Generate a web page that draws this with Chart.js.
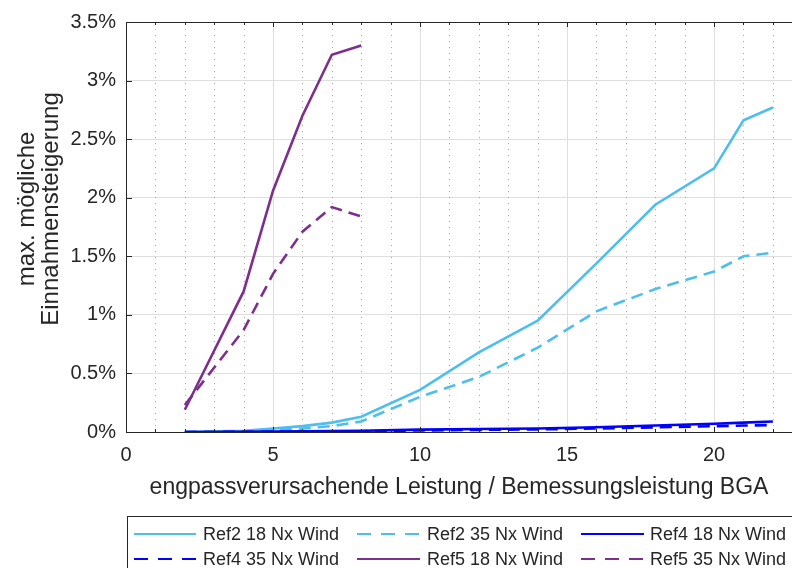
<!DOCTYPE html>
<html><head><meta charset="utf-8">
<script src="https://cdn.jsdelivr.net/npm/chart.js@4"></script>
<style>html,body{margin:0;padding:0;background:#fff;} #wrap{width:792px;height:568px;position:relative;}</style>
</head><body><div id="wrap"><canvas id="c" width="792" height="568"></canvas></div>
<script>
// ---- data ----
const xLong = [2, 4, 5, 6, 7, 8, 10, 12, 14, 16, 18, 20, 21, 22];
const xShort = [2, 4, 5, 6, 7, 8];
const ref2_18 = [0, 0.01, 0.03, 0.05, 0.08, 0.13, 0.36, 0.68, 0.95, 1.44, 1.94, 2.25, 2.66, 2.77];
const ref2_35 = [0, 0.005, 0.015, 0.03, 0.05, 0.09, 0.30, 0.47, 0.72, 1.03, 1.22, 1.37, 1.50, 1.53];
const ref4_18 = [0, 0.001, 0.003, 0.005, 0.008, 0.01, 0.02, 0.025, 0.03, 0.04, 0.055, 0.07, 0.08, 0.09];
const ref4_35 = [0, 0.001, 0.002, 0.003, 0.005, 0.007, 0.013, 0.018, 0.022, 0.03, 0.04, 0.05, 0.055, 0.06];
const ref5_18 = [0.19, 1.20, 2.06, 2.70, 3.22, 3.30];
const ref5_35 = [0.23, 0.87, 1.35, 1.71, 1.92, 1.84];
const seriesNames = ['Ref2 18 Nx Wind', 'Ref2 35 Nx Wind', 'Ref4 18 Nx Wind', 'Ref4 35 Nx Wind', 'Ref5 18 Nx Wind', 'Ref5 35 Nx Wind'];
const xTickValues = [0, 5, 10, 15, 20];
const xTickLabels = ['0', '5', '10', '15', '20'];
const yTickValues = [0, 0.5, 1, 1.5, 2, 2.5, 3, 3.5];
const yTickLabels = ['0%', '0.5%', '1%', '1.5%', '2%', '2.5%', '3%', '3.5%'];
const xTitle = 'engpassverursachende Leistung / Bemessungsleistung BGA';
const yTitle = ['max. mögliche', 'Einnahmensteigerung'];

// ---- styles ----
const cLight = '#4DBEEE', cBlue = '#0000FF', cPurple = '#7E2F8E';
const axisColor = '#262626';
const FONT = '"Liberation Sans", Arial, sans-serif';
const DASH = [12, 7];

function pts(xs, ys) { return xs.map((x, i) => ({ x: x, y: ys[i] })); }
const seriesData = [pts(xLong, ref2_18), pts(xLong, ref2_35), pts(xLong, ref4_18), pts(xLong, ref4_35), pts(xShort, ref5_18), pts(xShort, ref5_35)];
const seriesColors = [cLight, cLight, cBlue, cBlue, cPurple, cPurple];
const seriesDashed = [false, true, false, true, false, true];

const datasets = seriesData.map((d, i) => ({
  label: seriesNames[i],
  data: d,
  borderColor: seriesColors[i],
  backgroundColor: seriesColors[i],
  borderWidth: 2.6,
  borderDash: seriesDashed[i] ? DASH : [],
  pointRadius: 0,
  tension: 0,
  fill: false,
  order: -i
}));

const decorPlugin = {
  id: 'decor',
  beforeDatasetsDraw(chart) {
    const { ctx, chartArea: a, scales: { x } } = chart;
    ctx.save();
    ctx.strokeStyle = '#a8a8a8';
    ctx.lineWidth = 1;
    ctx.setLineDash([1, 5]);
    for (let v = 1; v <= Math.floor(x.max); v++) {
      if (v % 5 === 0) continue;
      const px = Math.round(x.getPixelForValue(v)) + 0.5;
      ctx.beginPath();
      ctx.moveTo(px, a.bottom);
      ctx.lineTo(px, a.top);
      ctx.stroke();
    }
    ctx.restore();
  },
  afterDatasetsDraw(chart) {
    const { ctx, chartArea: a, scales: { x, y } } = chart;
    ctx.save();
    ctx.strokeStyle = axisColor;
    ctx.lineWidth = 1;
    ctx.setLineDash([]);
    ctx.beginPath();
    ctx.moveTo(a.left, a.top + 0.5);
    ctx.lineTo(a.right, a.top + 0.5);
    ctx.stroke();
    ctx.beginPath();
    ctx.moveTo(a.left + 0.5, a.top);
    ctx.lineTo(a.left + 0.5, a.bottom);
    ctx.stroke();
    ctx.beginPath();
    ctx.moveTo(a.left, a.bottom + 0.5);
    ctx.lineTo(a.right, a.bottom + 0.5);
    ctx.stroke();
    for (let v = 0; v <= Math.floor(x.max); v++) {
      const len = (v % 5 === 0) ? 5 : 3;
      const px = Math.round(x.getPixelForValue(v)) + 0.5;
      ctx.beginPath();
      ctx.moveTo(px, a.bottom); ctx.lineTo(px, a.bottom - len);
      ctx.moveTo(px, a.top); ctx.lineTo(px, a.top + len);
      ctx.stroke();
    }
    yTickValues.forEach(v => {
      const py = Math.round(y.getPixelForValue(v)) + 0.5;
      ctx.beginPath();
      ctx.moveTo(a.left, py); ctx.lineTo(a.left + 6, py);
      ctx.stroke();
    });
    ctx.restore();
  },
  afterDraw(chart) {
    const { ctx } = chart;
    ctx.save();
    // y-axis title (two centred lines)
    ctx.fillStyle = axisColor;
    ctx.font = '24px ' + FONT;
    ctx.textAlign = 'center';
    ctx.textBaseline = 'middle';
    const tx = [27, 51];
    yTitle.forEach((line, i) => {
      ctx.save();
      ctx.translate(tx[i], 209);
      ctx.rotate(-Math.PI / 2);
      ctx.fillText(line, 0, 0);
      ctx.restore();
    });
    // legend box
    ctx.fillStyle = '#ffffff';
    ctx.fillRect(127, 516, 700, 100);
    ctx.strokeStyle = axisColor;
    ctx.lineWidth = 1;
    ctx.setLineDash([]);
    ctx.strokeRect(127.5, 516.5, 700, 100);
    const cols = [{ l: 134, r: 196, t: 203 }, { l: 357, r: 420, t: 427 }, { l: 581, r: 644, t: 650 }];
    const rows = [534, 559];
    ctx.font = '18px ' + FONT;
    ctx.textBaseline = 'middle';
    ctx.textAlign = 'left';
    seriesNames.forEach((name, i) => {
      const c = cols[i % 3], ry = rows[Math.floor(i / 3)];
      ctx.strokeStyle = seriesColors[i];
      ctx.lineWidth = 2;
      ctx.setLineDash(seriesDashed[i] ? [14, 10] : []);
      ctx.beginPath();
      ctx.moveTo(c.l, ry); ctx.lineTo(c.r, ry);
      ctx.stroke();
      ctx.setLineDash([]);
      ctx.fillStyle = axisColor;
      ctx.fillText(name, c.t, ry + 1);
    });
    ctx.restore();
  }
};

new Chart(document.getElementById('c'), {
  type: 'line',
  data: { datasets: datasets },
  options: {
    responsive: false,
    animation: false,
    devicePixelRatio: 1,
    layout: { padding: { top: 19, right: 0, bottom: 52, left: 0 } },
    plugins: { legend: { display: false }, tooltip: { enabled: false } },
    scales: {
      x: {
        type: 'linear',
        min: 0,
        max: 22.65,
        afterBuildTicks(s) { s.ticks = xTickValues.map(v => ({ value: v })); },
        afterFit(s) { s.height = 84; },
        ticks: {
          callback: (v) => { const k = xTickValues.indexOf(v); return k >= 0 ? xTickLabels[k] : ''; },
          font: { family: FONT, size: 20 },
          color: axisColor,
          padding: 11,
          maxRotation: 0,
          autoSkip: false
        },
        grid: { color: '#dfdfdf', lineWidth: 1, drawTicks: false },
        border: { display: true, color: axisColor, width: 1 },
        title: {
          display: true,
          text: xTitle,
          font: { family: FONT, size: 23 },
          color: axisColor,
          padding: { top: 0, bottom: 15 }
        }
      },
      y: {
        type: 'linear',
        min: 0,
        max: 3.5,
        afterBuildTicks(s) { s.ticks = yTickValues.map(v => ({ value: v })); },
        afterFit(s) { s.width = 126; },
        ticks: {
          callback: (v) => { const k = yTickValues.indexOf(v); return k >= 0 ? yTickLabels[k] : ''; },
          font: { family: FONT, size: 20 },
          color: axisColor,
          padding: 10,
          autoSkip: false
        },
        grid: { color: '#dfdfdf', lineWidth: 1, drawTicks: false },
        border: { display: true, color: axisColor, width: 1 },
        title: { display: false }
      }
    }
  },
  plugins: [decorPlugin]
});
</script>
</body></html>
